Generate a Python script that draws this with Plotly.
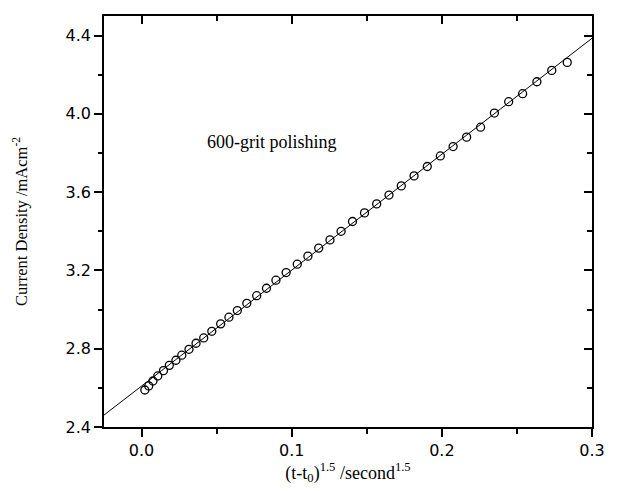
import plotly.graph_objects as go

# Current density measured against (t - t0)^1.5 after 600-grit polishing
t_pow = [0.0022, 0.0048, 0.0076, 0.0108, 0.0146, 0.0185, 0.0229, 0.0268, 0.0316, 0.0363,
         0.0414, 0.0468, 0.0527, 0.0582, 0.0638, 0.0701, 0.0767, 0.0832, 0.0895, 0.0963,
         0.1037, 0.1108, 0.1180, 0.1255, 0.1329, 0.1405, 0.1485, 0.1566, 0.1648, 0.1730,
         0.1815, 0.1903, 0.1990, 0.2075, 0.2165, 0.2258, 0.2350, 0.2445, 0.2538, 0.2633,
         0.2732, 0.2835]
current_density = [2.589, 2.610, 2.635, 2.661, 2.688, 2.715, 2.741, 2.767, 2.797, 2.828,
                   2.855, 2.889, 2.927, 2.961, 2.995, 3.032, 3.071, 3.109, 3.150, 3.189,
                   3.232, 3.273, 3.314, 3.356, 3.400, 3.450, 3.494, 3.540, 3.585, 3.632,
                   3.683, 3.731, 3.785, 3.833, 3.881, 3.932, 4.004, 4.062, 4.103, 4.164,
                   4.222, 4.263]

# Straight-line fit, spanning the whole x window
fit_x = [-0.025, 0.3]
fit_y = [2.461, 4.386]

x_range = [-0.025, 0.3]
y_range = [2.4, 4.5]
x_ticks = [0.0, 0.1, 0.2, 0.3]
y_ticks = [2.4, 2.8, 3.2, 3.6, 4.0, 4.4]

tick_font = dict(family="DejaVu Sans", size=16, color="black")
serif = "Liberation Serif"

fig = go.Figure()
fig.add_trace(go.Scatter(
    x=fit_x, y=fit_y, mode="lines",
    line=dict(color="black", width=1),
    showlegend=False, hoverinfo="skip",
))
fig.add_trace(go.Scatter(
    x=t_pow, y=current_density, mode="markers",
    marker=dict(symbol="circle-open", size=8, color="black", line=dict(width=1.3)),
    showlegend=False,
))
# empty trace so the mirrored top/right axes get drawn
fig.add_trace(go.Scatter(x=[], y=[], xaxis="x2", yaxis="y2",
                         showlegend=False, hoverinfo="skip"))

common = dict(showline=True, linecolor="black", linewidth=1.5, showgrid=False,
              zeroline=False, tickcolor="black", tickwidth=1.5)

fig.update_layout(
    width=617, height=491,
    margin=dict(l=104, r=16, t=16, b=64),
    paper_bgcolor="white", plot_bgcolor="white",
    xaxis=dict(
        range=x_range, tickvals=x_ticks, tickformat=".1f",
        ticks="outside", ticklen=8, tickfont=tick_font,
        minor=dict(dtick=0.05, tick0=0, ticks="outside", ticklen=5,
                   tickcolor="black", tickwidth=1.5),
        title=dict(text="(t-t<sub>0</sub>)<sup>1.5</sup> /second<sup>1.5</sup>",
                   font=dict(family=serif, size=18, color="black"), standoff=4),
        **common,
    ),
    yaxis=dict(
        range=y_range, tickvals=y_ticks, tickformat=".1f",
        ticks="outside", ticklen=8, tickfont=tick_font,
        minor=dict(dtick=0.2, tick0=2.4, ticks="outside", ticklen=4,
                   tickcolor="black", tickwidth=1.5),
        title=dict(text="Current Density /mAcm<sup>-2</sup>",
                   font=dict(family=serif, size=16.5, color="black"), standoff=34),
        **common,
    ),
    xaxis2=dict(
        range=x_range, overlaying="x", side="top", anchor="y",
        tickvals=x_ticks, showticklabels=False,
        ticks="inside", ticklen=8,
        minor=dict(dtick=0.05, tick0=0, ticks="inside", ticklen=5,
                   tickcolor="black", tickwidth=1.5),
        **common,
    ),
    yaxis2=dict(
        range=y_range, overlaying="y", side="right", anchor="x",
        tickvals=y_ticks, showticklabels=False,
        ticks="inside", ticklen=8,
        minor=dict(dtick=0.2, tick0=2.4, ticks="inside", ticklen=5,
                   tickcolor="black", tickwidth=1.5),
        **common,
    ),
)

fig.add_annotation(
    x=0.087, y=3.857, xref="x", yref="y",
    text="600-grit polishing", showarrow=False,
    font=dict(family=serif, size=18, color="black"),
)

fig.write_html("out.html")
